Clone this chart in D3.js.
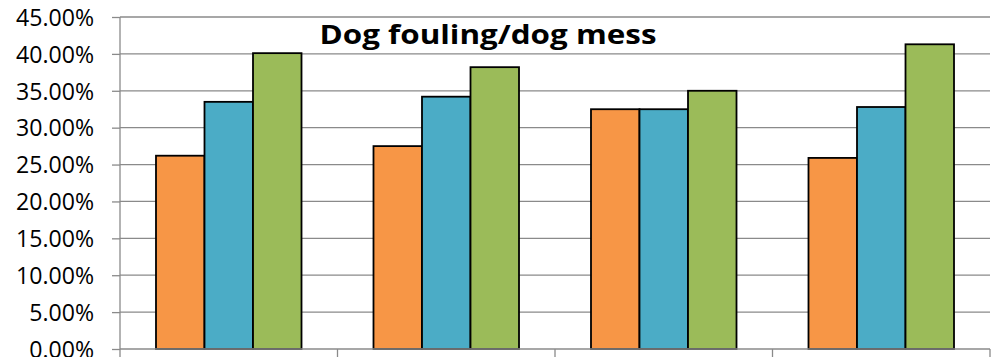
<!DOCTYPE html>
<html><head><meta charset="utf-8">
<script src="https://cdn.jsdelivr.net/npm/d3@7"></script>
<style>body{margin:0;background:#fff}svg{display:block}</style>
</head><body>
<svg id="c" width="994" height="357"></svg>
<script>
const categories = ["Group 1", "Group 2", "Group 3", "Group 4"];
const seriesNames = ["Series 1", "Series 2", "Series 3"];
const series1 = [0.262, 0.275, 0.325, 0.259];
const series2 = [0.335, 0.342, 0.325, 0.328];
const series3 = [0.401, 0.382, 0.350, 0.413];
const yTicks = [0, 0.05, 0.10, 0.15, 0.20, 0.25, 0.30, 0.35, 0.40, 0.45];
const colors = ["#F79646", "#4BACC6", "#9BBB59"];
const title = "Dog fouling/dog mess";

(function () {
const svg = d3.select("#c");
const mLeft = 120, mRight = 990, mTop = 17, mBottom = 349;
const x = d3.scaleBand().domain(categories).range([mLeft, mRight]).paddingInner(0).paddingOuter(0);
const y = d3.scaleLinear().domain([0, 0.45]).range([mBottom, mTop]);
const inner = d3.scaleBand().domain(seriesNames).range([0, x.bandwidth()]).paddingInner(0).paddingOuter(0.742);

// gridlines
svg.append("g").selectAll("line").data(yTicks.filter(d => d > 0)).join("line")
  .attr("x1", mLeft).attr("x2", mRight).attr("y1", d => y(d)).attr("y2", d => y(d))
  .attr("stroke", "#8a8a8a").attr("stroke-width", 1.3);

// y axis
const yAxis = d3.axisLeft(y).tickValues(yTicks).tickFormat(d3.format(".2%")).tickSize(8).tickPadding(18);
const gy = svg.append("g").attr("transform", `translate(${mLeft},0)`).call(yAxis);
gy.select(".domain").attr("stroke", "#8a8a8a").attr("stroke-width", 1.3).attr("d", `M0,${mBottom}V${mTop}`);
gy.selectAll(".tick line").attr("stroke", "#8a8a8a").attr("stroke-width", 1.3);
const labels = gy.selectAll(".tick text").attr("font-family", "Open Sans").attr("font-size", 20).attr("fill", "#000").attr("dy", "0.36em");
let maxW = 0;
labels.each(function () { maxW = Math.max(maxW, this.getComputedTextLength()); });
if (maxW > 0) labels.attr("font-size", 20 * 78 / maxW);

// bars
const data = [series1, series2, series3];
const g = svg.append("g");
categories.forEach((c, i) => {
  seriesNames.forEach((s, j) => {
    const v = data[j][i];
    g.append("rect")
      .attr("x", x(c) + inner(s)).attr("width", inner.bandwidth())
      .attr("y", y(v)).attr("height", y(0) - y(v))
      .attr("fill", colors[j]).attr("stroke", "#000").attr("stroke-width", 1.8);
  });
});

// x axis
svg.append("line").attr("x1", mLeft).attr("x2", mRight).attr("y1", mBottom).attr("y2", mBottom)
  .attr("stroke", "#8a8a8a").attr("stroke-width", 1.3);
const bounds = categories.map(c => x(c)).concat([x(categories[categories.length-1]) + x.bandwidth()]);
svg.append("g").selectAll("line").data(bounds).join("line")
  .attr("x1", d => d).attr("x2", d => d).attr("y1", mBottom).attr("y2", mBottom + 8)
  .attr("stroke", "#8a8a8a").attr("stroke-width", 1.3);

// title
svg.append("text").attr("x", 488).attr("y", 44).attr("text-anchor", "middle")
  .attr("font-family", "Open Sans").attr("font-weight", "bold").attr("font-size", 27)
  .attr("textLength", 337).attr("lengthAdjust", "spacingAndGlyphs")
  .text(title);
})();
</script>
</body></html>
